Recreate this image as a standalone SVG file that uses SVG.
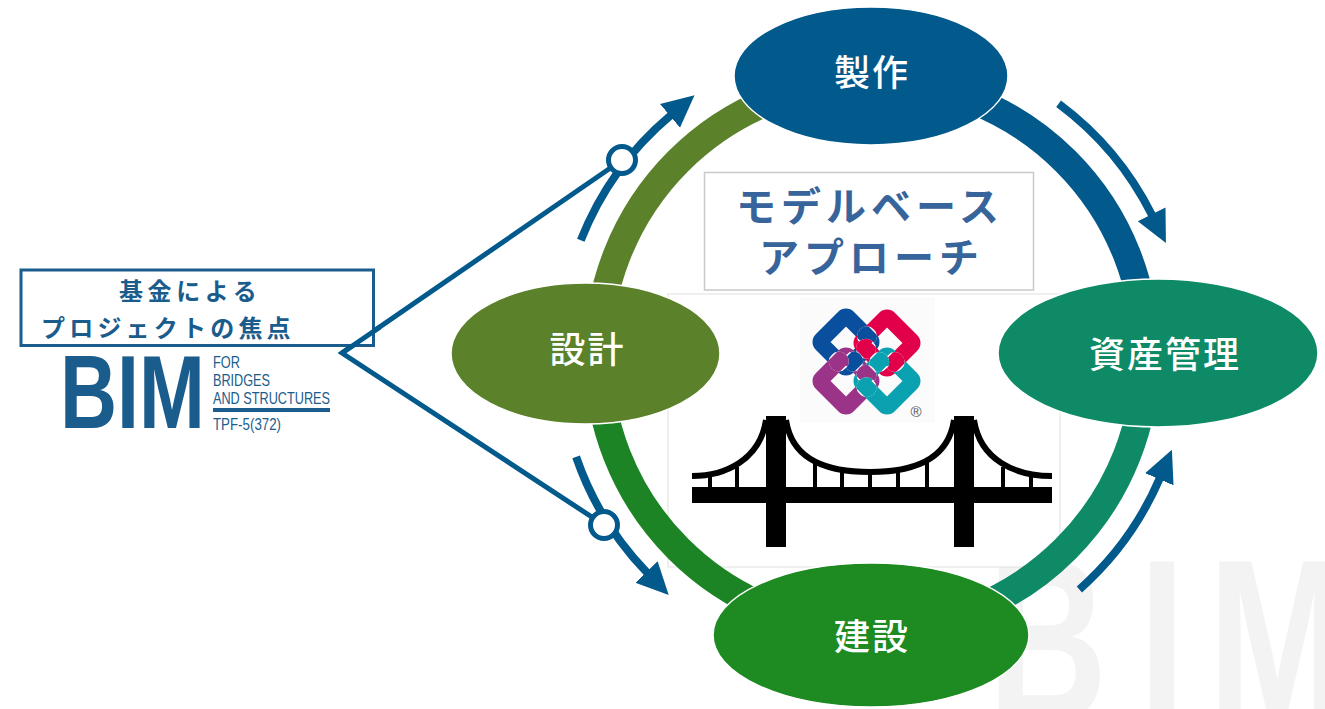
<svg xmlns="http://www.w3.org/2000/svg" xmlns:xlink="http://www.w3.org/1999/xlink" width="1325" height="709" viewBox="0 0 1325 709">
  <style>
    .jp { font-family: "Noto Sans CJK JP", "Noto Sans", sans-serif; }
    .node-label { font-size: 36px; fill: #ffffff; font-weight: 500; letter-spacing: 2px; text-anchor: middle; }
    .ring { fill: none; stroke-width: 28; }
    .flow { fill: none; stroke: #02598b; stroke-width: 8; marker-end: url(#ah); }
    .feed { fill: none; stroke: #02598b; stroke-width: 5; stroke-linejoin: miter; }
    .hub { fill: #ffffff; stroke: #02598b; stroke-width: 5; }
    .oval { stroke: #ffffff; stroke-width: 1.5; }
    .logo-t { font-family: "Liberation Sans", Arial, sans-serif; fill: #1a5c8c; }
    .hanger { stroke: #000; stroke-width: 4; }
    .cable { fill: none; stroke: #000; stroke-width: 6; }
    .gap { stroke: #ffffff; stroke-width: 19; }
    .band { stroke-width: 16; }
  </style>
  <defs>
    <marker id="ah" markerUnits="userSpaceOnUse" markerWidth="32" markerHeight="32" viewBox="0 0 31 30" refX="1" refY="15" orient="auto">
      <path d="M0,0 L31,15 L0,30 z" fill="#02598b"/>
    </marker>
    <!-- one link of the interlocked IFC mark -->
    <rect id="sq" x="-18.9" y="-18.9" width="37.8" height="37.8" rx="3" fill="none"/>
    <clipPath id="x1"><circle cx="867" cy="336.3" r="10"/></clipPath>
    <clipPath id="x2"><circle cx="866" cy="348.7" r="10"/></clipPath>
    <clipPath id="x3"><circle cx="853.2" cy="361.5" r="10"/></clipPath>
    <clipPath id="x4"><circle cx="838.8" cy="361.5" r="10"/></clipPath>
    <clipPath id="x5"><circle cx="894.7" cy="362" r="10"/></clipPath>
    <clipPath id="x6"><circle cx="879.3" cy="362" r="10"/></clipPath>
    <clipPath id="x7"><circle cx="866.5" cy="374.8" r="10"/></clipPath>
    <clipPath id="x8"><circle cx="866.5" cy="387.2" r="10"/></clipPath>
  </defs>

  <rect width="1325" height="709" fill="#ffffff"/>

  <!-- faint background lettering -->
  <text transform="scale(0.72 1)" x="1372 1582 1678" y="720" font-family="Liberation Sans, Arial, sans-serif" font-weight="700" font-size="230" fill="#f3f3f3">BIM</text>

  <!-- picture frame behind the bridge -->
  <rect x="668" y="294" width="392" height="273" fill="#ffffff" stroke="#e0e0e0" stroke-width="1"/>

  <!-- IFC mark -->
  <g id="ifc-logo">
    <rect x="800" y="297" width="135" height="126" fill="#fbfbfb"/>
    <use xlink:href="#sq" class="band" transform="translate(846 342) rotate(45)" stroke="#0a4f9e"/>
    <use xlink:href="#sq" class="band" transform="translate(887 343) rotate(45)" stroke="#e2004b"/>
    <use xlink:href="#sq" class="band" transform="translate(846 381) rotate(45)" stroke="#9b3489"/>
    <use xlink:href="#sq" class="band" transform="translate(887 381) rotate(45)" stroke="#0aa1b1"/>
    <g clip-path="url(#x1)">
      <use xlink:href="#sq" class="gap" transform="translate(846 342) rotate(45)"/>
      <use xlink:href="#sq" class="band" transform="translate(846 342) rotate(45)" stroke="#0a4f9e"/>
    </g>
    <g clip-path="url(#x2)">
      <use xlink:href="#sq" class="gap" transform="translate(887 343) rotate(45)"/>
      <use xlink:href="#sq" class="band" transform="translate(887 343) rotate(45)" stroke="#e2004b"/>
    </g>
    <g clip-path="url(#x3)">
      <use xlink:href="#sq" class="gap" transform="translate(846 342) rotate(45)"/>
      <use xlink:href="#sq" class="band" transform="translate(846 342) rotate(45)" stroke="#0a4f9e"/>
    </g>
    <g clip-path="url(#x4)">
      <use xlink:href="#sq" class="gap" transform="translate(846 381) rotate(45)"/>
      <use xlink:href="#sq" class="band" transform="translate(846 381) rotate(45)" stroke="#9b3489"/>
    </g>
    <g clip-path="url(#x5)">
      <use xlink:href="#sq" class="gap" transform="translate(887 343) rotate(45)"/>
      <use xlink:href="#sq" class="band" transform="translate(887 343) rotate(45)" stroke="#e2004b"/>
    </g>
    <g clip-path="url(#x6)">
      <use xlink:href="#sq" class="gap" transform="translate(887 381) rotate(45)"/>
      <use xlink:href="#sq" class="band" transform="translate(887 381) rotate(45)" stroke="#0aa1b1"/>
    </g>
    <g clip-path="url(#x7)">
      <use xlink:href="#sq" class="gap" transform="translate(846 381) rotate(45)"/>
      <use xlink:href="#sq" class="band" transform="translate(846 381) rotate(45)" stroke="#9b3489"/>
    </g>
    <g clip-path="url(#x8)">
      <use xlink:href="#sq" class="gap" transform="translate(887 381) rotate(45)"/>
      <use xlink:href="#sq" class="band" transform="translate(887 381) rotate(45)" stroke="#0aa1b1"/>
    </g>
    <text x="916" y="417" font-family="Liberation Sans, Arial, sans-serif" font-size="15" fill="#555555" text-anchor="middle">®</text>
  </g>

  <!-- suspension bridge -->
  <g id="bridge">
    <path class="cable" d="M786,420 C792,462 830,472 870,472 C910,472 948,462 954,420"/>
    <path class="cable" d="M766,420 C760,460 725,476 692,476"/>
    <path class="cable" d="M974,420 C980,460 1015,476 1052,476"/>
    <line class="hanger" x1="710" y1="474" x2="710" y2="488"/>
    <line class="hanger" x1="737" y1="467" x2="737" y2="488"/>
    <line class="hanger" x1="815" y1="461" x2="815" y2="488"/>
    <line class="hanger" x1="842" y1="468" x2="842" y2="488"/>
    <line class="hanger" x1="870" y1="471" x2="870" y2="488"/>
    <line class="hanger" x1="898" y1="468" x2="898" y2="488"/>
    <line class="hanger" x1="927" y1="461" x2="927" y2="488"/>
    <line class="hanger" x1="1003" y1="467" x2="1003" y2="488"/>
    <line class="hanger" x1="1031" y1="474" x2="1031" y2="488"/>
    <rect x="692" y="487" width="360" height="16" fill="#000"/>
    <rect x="766" y="416" width="20" height="131" fill="#000"/>
    <rect x="954" y="416" width="20" height="131" fill="#000"/>
  </g>

  <!-- central title -->
  <g id="approach-title">
    <rect x="704.5" y="172.5" width="329" height="117.5" fill="#ffffff" stroke="#c9c9c9" stroke-width="1.5"/>
    <text class="jp" x="736" y="221" font-size="40" font-weight="700" letter-spacing="5" fill="#37649a">モデルベース</text>
    <text class="jp" x="759" y="272" font-size="40" font-weight="700" letter-spacing="5" fill="#37649a">アプローチ</text>
  </g>

  <!-- lifecycle ring and flow arrows -->
  <g id="connectors">
    <path class="ring" stroke="#5b822b" d="M598,355 A274,274 0 0 1 872,81"/>
    <path class="ring" stroke="#02598b" d="M872,81 A274,274 0 0 1 1146,355"/>
    <path class="ring" stroke="#0e8a66" d="M1146,355 A274,274 0 0 1 872,629"/>
    <path class="ring" stroke="#1c8424" d="M872,629 A274,274 0 0 1 598,355"/>

    <path class="flow" d="M580.8,240.3 A313,313 0 0 1 670.8,115.2"/>
    <path class="flow" d="M576.1,456.9 A313,313 0 0 0 647.2,572.8"/>
    <path class="flow" d="M1058.6,103.7 A313,313 0 0 1 1152.1,215.3"/>
    <path class="flow" d="M1079.4,589.4 A313,313 0 0 0 1159.7,478.3"/>

    <path class="feed" d="M622,160 L342,353 L604,525"/>
    <circle class="hub" cx="622" cy="160" r="13.5"/>
    <circle class="hub" cx="604" cy="525" r="13.5"/>
  </g>

  <!-- lifecycle stages -->
  <g id="node-fabrication">
    <ellipse class="oval" cx="871" cy="76" rx="137" ry="69" fill="#02598b"/>
    <text class="jp node-label" x="872" y="86">製作</text>
  </g>
  <g id="node-design">
    <ellipse class="oval" cx="585.5" cy="353.5" rx="134.5" ry="70.5" fill="#5b822b"/>
    <text class="jp node-label" x="587.5" y="363">設計</text>
  </g>
  <g id="node-asset-management">
    <ellipse class="oval" cx="1158" cy="353" rx="160" ry="74" fill="#0e8a66"/>
    <text class="jp node-label" x="1165" y="368">資産管理</text>
  </g>
  <g id="node-construction">
    <ellipse class="oval" cx="871" cy="635" rx="158" ry="72" fill="#1d8a22"/>
    <text class="jp node-label" x="872" y="650">建設</text>
  </g>

  <!-- funded project focus -->
  <g id="node-focus">
    <rect x="21" y="270" width="352.5" height="75.5" fill="#ffffff" stroke="#1a5c8c" stroke-width="3"/>
    <text class="jp" x="119" y="300" font-size="24" font-weight="700" letter-spacing="4.6" fill="#1a5c8c">基金による</text>
    <text class="jp" x="41" y="337" font-size="24" font-weight="700" letter-spacing="4.2" fill="#1a5c8c">プロジェクトの焦点</text>
  </g>

  <!-- feed line segment crossing the box edge -->
  <path class="feed" d="M380,327 L342,353"/>

  <!-- BIM for Bridges and Structures mark -->
  <g id="bim-logo">
    <text class="logo-t" x="60" y="428" font-size="103" font-weight="700" textLength="145" lengthAdjust="spacingAndGlyphs">BIM</text>
    <text class="logo-t" x="213" y="368" font-size="17" textLength="27" lengthAdjust="spacingAndGlyphs">FOR</text>
    <text class="logo-t" x="213" y="386" font-size="17" textLength="57" lengthAdjust="spacingAndGlyphs">BRIDGES</text>
    <text class="logo-t" x="213" y="404" font-size="17" textLength="117" lengthAdjust="spacingAndGlyphs">AND STRUCTURES</text>
    <rect x="213" y="408" width="117" height="4" fill="#1a5c8c"/>
    <text class="logo-t" x="213" y="430" font-size="16" textLength="68" lengthAdjust="spacingAndGlyphs">TPF-5(372)</text>
  </g>
</svg>
